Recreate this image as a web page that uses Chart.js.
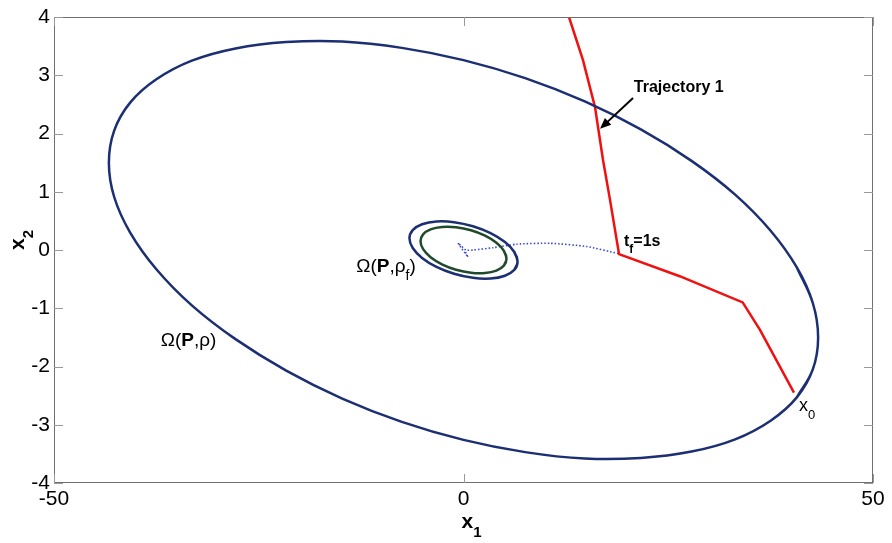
<!DOCTYPE html>
<html>
<head>
<meta charset="utf-8">
<script src="https://cdn.jsdelivr.net/npm/chart.js@4.4.1/dist/chart.umd.min.js"></script>
<style>
  html, body { margin: 0; padding: 0; background: #fff; }
  #wrap { width: 892px; height: 543px; }
</style>
</head>
<body>
<div id="wrap"><canvas id="chart"></canvas></div>
<script>
// --- DATA ---
const X_TICKS = [-50, 0, 50];
const Y_TICKS = [-4, -3, -2, -1, 0, 1, 2, 3, 4];

// outer level set Omega(P, rho); the loop overlaps a little at the ends so the join stays smooth
const BIG_X = [40.70, 42.65, 43.3, 42.65, 40.70, 37.50, 33.17, 27.84, 21.65, 14.81, 7.53, 0, -7.53, -14.81, -21.65, -27.84, -33.17, -37.50, -40.70, -42.65,
               -43.3, -42.65, -40.70, -37.50, -33.17, -27.84, -21.65, -14.81, -7.53, 0, 7.53, 14.81, 21.65, 27.84, 33.17, 37.50, 40.70, 42.65, 43.3, 42.65, 40.70];
const BIG_Y = [-2.53, -2.05, -1.50, -0.91, -0.30, 0.33, 0.95, 1.53, 2.07, 2.55, 2.95, 3.26, 3.47, 3.58, 3.57, 3.46, 3.25, 2.93, 2.53, 2.05,
               1.50, 0.91, 0.30, -0.33, -0.95, -1.53, -2.07, -2.55, -2.95, -3.26, -3.47, -3.58, -3.57, -3.46, -3.25, -2.93, -2.53, -2.05, -1.50, -0.91, -0.30];

// small blue ring Omega(P, rho_f)
const MID_X = [6.20, 6.6, 6.20, 5.06, 3.30, 1.15, -1.15, -3.30, -5.06, -6.20, -6.6, -6.20, -5.06, -3.30, -1.15, 1.15, 3.30, 5.06, 6.20, 6.6, 6.20];
const MID_Y = [-0.342, -0.20, -0.034, 0.136, 0.29, 0.408, 0.478, 0.49, 0.442, 0.342, 0.20, 0.034, -0.136, -0.29, -0.408, -0.478, -0.49, -0.442, -0.342, -0.20, -0.034];

// inner green ring
const IN_X = [4.93, 5.25, 4.93, 4.02, 2.63, 0.91, -0.91, -2.63, -4.02, -4.93, -5.25, -4.93, -4.02, -2.63, -0.91, 0.91, 2.63, 4.02, 4.93, 5.25, 4.93];
const IN_Y = [-0.268, -0.15, -0.014, 0.123, 0.245, 0.338, 0.390, 0.395, 0.353, 0.268, 0.15, 0.014, -0.123, -0.245, -0.338, -0.390, -0.395, -0.353, -0.268, -0.15, -0.014];

// trajectory 1 (red)
const RED_X = [12.88, 14.59, 16.06, 17.03, 17.89, 18.99, 26.4, 34.09, 36.2, 40.35];
const RED_Y = [4.0, 3.26, 2.45, 1.55, 0.86, -0.07, -0.45, -0.90, -1.37, -2.45];

// after t_f (blue dotted)
const DOT_X = [18.9, 15.04, 10.56, 6.5, 3.64, 1.2, 0.3, -0.67, 0.55, 0.1];
const DOT_Y = [-0.06, 0.06, 0.115, 0.10, 0.04, 0.0, 0.0, 0.12, -0.12, 0.0];

function pts(xs, ys) { return xs.map((x, i) => ({ x: x, y: ys[i] })); }

// --- ANNOTATIONS ---
const FONT = '"Liberation Sans", Arial, sans-serif';
const NOTES = [
    { at: [20.8, 2.78], size: 16, runs: [{ t: 'Trajectory 1', b: 1 }] },
    { at: [19.6, 0.15], size: 16, runs: [{ t: 't', b: 1 }, { t: 'f', b: 1, s: 1 }, { t: '=1s', b: 1 }] },
    { at: [40.96, -2.68], size: 18, runs: [{ t: 'x' }, { t: '0', s: 1 }] },
    { at: [-13.1, -0.29], size: 19, runs: [{ t: 'Ω(' }, { t: 'P', b: 1 }, { t: ',ρ' }, { t: 'f', s: 1 }, { t: ')' }] },
    { at: [-36.97, -1.56], size: 19, runs: [{ t: 'Ω(' }, { t: 'P', b: 1 }, { t: ',ρ' }, { t: ')' }] }
];
const ARROW = { from: [20.7, 2.61], to: [16.67, 2.08] };

function drawRuns(ctx, px, py, runs, size) {
    let cx = px;
    runs.forEach(r => {
        const fs = r.s ? Math.round(size * 0.72) : size;
        ctx.font = (r.b ? 'bold ' : '') + fs + 'px ' + FONT;
        ctx.fillText(r.t, cx, py + (r.s ? size * 0.5 : 0));
        cx += ctx.measureText(r.t).width;
    });
}

// box, inward ticks, text labels
const framePlugin = {
    id: 'frame',
    afterDraw(chart) {
        const { ctx, chartArea: a, scales: { x, y } } = chart;
        ctx.save();
        ctx.strokeStyle = '#707070';
        ctx.lineWidth = 1;
        ctx.strokeRect(a.left + 0.5, a.top + 0.5, a.right - a.left - 1, a.bottom - a.top - 1);

        ctx.strokeStyle = '#999';
        ctx.beginPath();
        Y_TICKS.forEach(v => {
            const p = Math.round(y.getPixelForValue(v)) + 0.5;
            ctx.moveTo(a.left, p); ctx.lineTo(a.left + 9, p);
            ctx.moveTo(a.right, p); ctx.lineTo(a.right - 9, p);
        });
        X_TICKS.forEach(v => {
            const p = Math.round(x.getPixelForValue(v)) + 0.5;
            ctx.moveTo(p, a.bottom); ctx.lineTo(p, a.bottom - 9);
            ctx.moveTo(p, a.top); ctx.lineTo(p, a.top + 9);
        });
        ctx.stroke();

        // annotations
        ctx.fillStyle = '#000';
        ctx.textAlign = 'left';
        ctx.textBaseline = 'middle';
        NOTES.forEach(n => {
            drawRuns(ctx, x.getPixelForValue(n.at[0]), y.getPixelForValue(n.at[1]), n.runs, n.size);
        });

        // arrow
        const x1 = x.getPixelForValue(ARROW.from[0]), y1 = y.getPixelForValue(ARROW.from[1]);
        const x2 = x.getPixelForValue(ARROW.to[0]), y2 = y.getPixelForValue(ARROW.to[1]);
        const ang = Math.atan2(y2 - y1, x2 - x1);
        ctx.strokeStyle = '#000';
        ctx.lineWidth = 2;
        ctx.beginPath();
        ctx.moveTo(x1, y1);
        ctx.lineTo(x2 - 8 * Math.cos(ang), y2 - 8 * Math.sin(ang));
        ctx.stroke();
        ctx.beginPath();
        ctx.moveTo(x2, y2);
        ctx.lineTo(x2 - 12 * Math.cos(ang - 0.4), y2 - 12 * Math.sin(ang - 0.4));
        ctx.lineTo(x2 - 12 * Math.cos(ang + 0.4), y2 - 12 * Math.sin(ang + 0.4));
        ctx.closePath();
        ctx.fillStyle = '#000';
        ctx.fill();

        // axis titles
        drawRuns(ctx, x.getPixelForValue(0) - 2, a.bottom + 39, [{ t: 'x', b: 1 }, { t: '1', b: 1, s: 1 }], 21);
        ctx.translate(18.5, 250);
        ctx.rotate(-Math.PI / 2);
        drawRuns(ctx, 0, 0, [{ t: 'x', b: 1 }, { t: '2', b: 1, s: 1 }], 21);
        ctx.restore();
    }
};

const line = (data, color, width, extra) => Object.assign({
    data: data, showLine: true, borderColor: color, backgroundColor: color,
    borderWidth: width, pointRadius: 0, fill: false
}, extra || {});

new Chart(document.getElementById('chart').getContext('2d'), {
    type: 'scatter',
    data: {
        datasets: [
            line(pts(BIG_X, BIG_Y), '#1b2f72', 2.5, { tension: 0.4 }),
            line(pts(MID_X, MID_Y), '#1b2f72', 2.5, { tension: 0.4 }),
            line(pts(IN_X, IN_Y), '#1f4a2c', 2.5, { tension: 0.4 }),
            line(pts(RED_X, RED_Y), '#f01010', 2.5, { tension: 0 }),
            line(pts(DOT_X, DOT_Y), '#3a48d0', 1.6, { tension: 0.2, borderDash: [1.5, 2] })
        ]
    },
    options: {
        responsive: true,
        maintainAspectRatio: false,
        animation: false,
        layout: { padding: { top: 17, right: 19, left: 0, bottom: 0 } },
        plugins: { legend: { display: false }, tooltip: { enabled: false } },
        scales: {
            x: {
                type: 'linear', min: -50, max: 50,
                afterBuildTicks: s => { s.ticks = X_TICKS.map(v => ({ value: v })); },
                afterFit: s => { s.height = 60; },
                grid: { display: false, drawTicks: false },
                border: { display: false },
                ticks: { color: '#000', padding: 4, maxRotation: 0, autoSkip: false, font: { family: FONT, size: 21 } }
            },
            y: {
                type: 'linear', min: -4, max: 4,
                afterBuildTicks: s => { s.ticks = Y_TICKS.map(v => ({ value: v })); },
                afterFit: s => { s.width = 54; },
                grid: { display: false, drawTicks: false },
                border: { display: false },
                ticks: { color: '#000', padding: 4, autoSkip: false, font: { family: FONT, size: 21 } }
            }
        }
    },
    plugins: [framePlugin]
});
</script>
</body>
</html>
